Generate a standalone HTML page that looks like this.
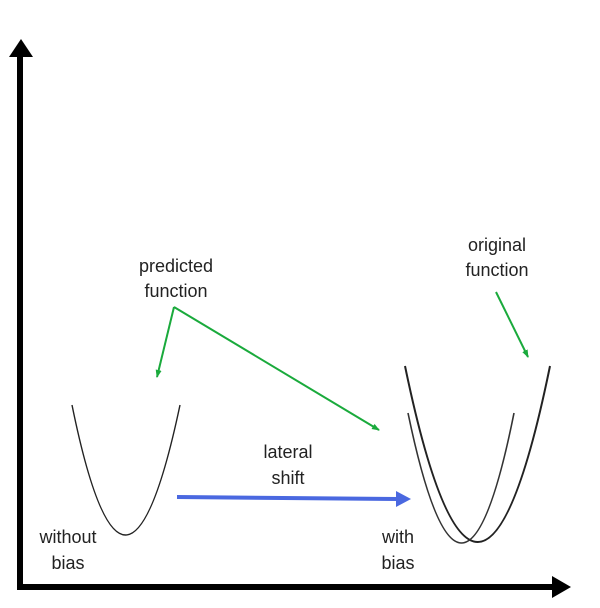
<!DOCTYPE html>
<html><head><style>body{margin:0;background:#fff}svg{display:block}</style></head><body>
<svg width="600" height="608" xmlns="http://www.w3.org/2000/svg">
<defs>
<marker id="g" markerWidth="8" markerHeight="8" refX="7" refY="4" orient="auto" markerUnits="userSpaceOnUse"><path d="M0,1 L8,4 L0,7z" fill="#1aaa3c"/></marker>
</defs>
<line x1="20" y1="56" x2="20" y2="590" stroke="#000" stroke-width="6"/>
<path d="M9,57 L21,39 L33,57z" fill="#000"/>
<line x1="17" y1="587" x2="553" y2="587" stroke="#000" stroke-width="6"/>
<path d="M552,576 L571,587 L552,598z" fill="#000"/>
<path d="M72,405 Q125,665 180,405" fill="none" stroke="#222" stroke-width="1.4"/>
<path d="M405,366 Q478,718 550,366" fill="none" stroke="#222" stroke-width="2"/>
<path d="M408,413 Q462,673 514,413" fill="none" stroke="#333" stroke-width="1.6"/>
<g stroke="#1aaa3c" stroke-width="2" fill="none">
<line x1="174" y1="307" x2="157" y2="377" marker-end="url(#g)"/>
<line x1="174" y1="307" x2="379" y2="430" marker-end="url(#g)"/>
<line x1="496" y1="292" x2="528" y2="357" marker-end="url(#g)"/>
</g>
<line x1="177" y1="497" x2="398" y2="499" stroke="#4a68e0" stroke-width="4"/>
<path d="M396,491 L411,499 L396,507z" fill="#4a68e0"/>
<g font-family="Liberation Sans, sans-serif" font-size="18" fill="#222" text-anchor="middle">
<text x="176" y="272">predicted</text><text x="176" y="297">function</text>
<text x="497" y="251">original</text><text x="497" y="276">function</text>
<text x="288" y="458">lateral</text><text x="288" y="484">shift</text>
<text x="68" y="543">without</text><text x="68" y="569">bias</text>
<text x="398" y="543">with</text><text x="398" y="569">bias</text>
</g>
</svg>
</body></html>
